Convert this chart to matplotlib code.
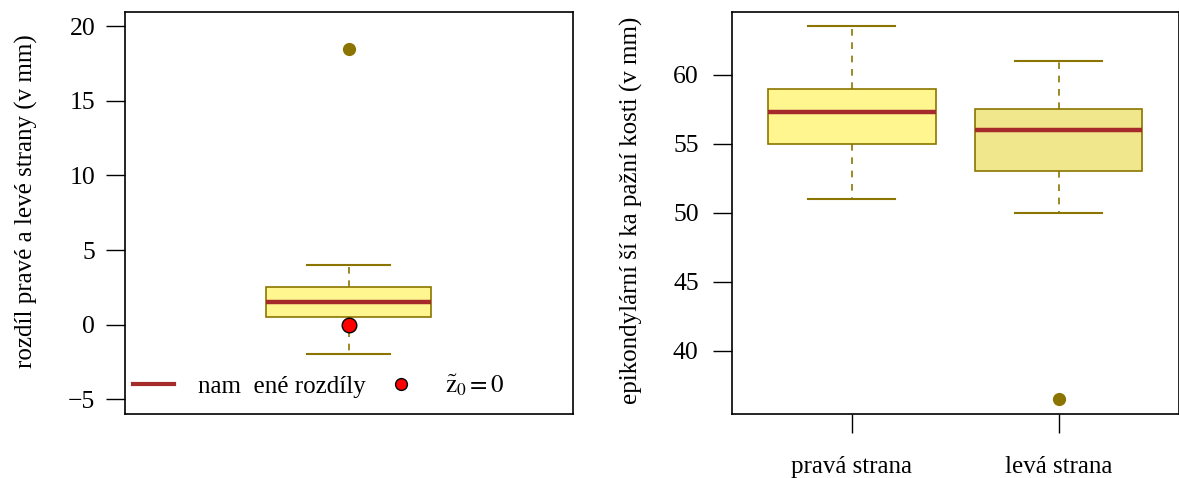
import matplotlib
matplotlib.use("Agg")
import matplotlib.pyplot as plt
from matplotlib.lines import Line2D

plt.rcParams['font.family'] = ['Liberation Serif', 'DejaVu Serif']
plt.rcParams['mathtext.fontset'] = 'stix'
FS = 18
TFS = 18.5

# ---- data ----
diff_stats = dict(whislo=-2.0, q1=0.5, med=1.5, q3=2.5, whishi=4.0, fliers=[18.5])
groups = ["pravá strana", "levá strana"]
g_whislo = [51.0, 50.0]
g_q1 = [55.0, 53.0]
g_med = [57.3, 56.0]
g_q3 = [59.0, 57.5]
g_whishi = [63.5, 61.0]
g_fliers = [[], [36.5]]
left_ticks = [-5, 0, 5, 10, 15, 20]
right_ticks = [40, 45, 50, 55, 60]
null_value = [0.0]

edge = '#8B7500'
medc = '#A52A2A'
fills_right = ['#FFF68F', '#F0E68C']

W, H = 1179, 478
fig = plt.figure(figsize=(W / 100, H / 100), dpi=100)
axL = fig.add_axes([124.5 / W, (H - 414) / H, (572.5 - 124.5) / W, (414 - 11.5) / H])
axR = fig.add_axes([732 / W, (H - 414) / H, (1178.5 - 732) / W, (414 - 11.5) / H])


def style_box(b, fills):
    for patch, fc in zip(b['boxes'], fills):
        patch.set_facecolor(fc)
        patch.set_edgecolor(edge)
        patch.set_linewidth(1.2)
    for w in b['whiskers']:
        w.set_color(edge)
        w.set_linestyle((0, (4, 4)))
        w.set_linewidth(1.2)
    for c in b['caps']:
        c.set_color(edge)
        c.set_linewidth(1.5)
    for m in b['medians']:
        m.set_color(medc)
        m.set_linewidth(3.2)
        m.set_solid_capstyle('butt')
    for f in b['fliers']:
        f.set_marker('o')
        f.set_markerfacecolor(edge)
        f.set_markeredgecolor(edge)
        f.set_markersize(8.5)


# ---- left panel ----
bL = axL.bxp([diff_stats], positions=[1], widths=0.40, capwidths=0.20,
             patch_artist=True, showfliers=True, manage_ticks=False)
style_box(bL, ['#FFF68F'])
axL.plot([1] * len(null_value), null_value, 'o', markersize=10.5,
         markerfacecolor='red', markeredgecolor='black', markeredgewidth=1.0, zorder=5)
axL.set_xlim(0.46, 1.54)
axL.set_ylim(-6, 21)
axL.set_yticks(left_ticks)
axL.set_yticklabels([str(t).replace('-', '\u2212') for t in left_ticks])
axL.set_xticks([])
axL.set_ylabel('rozdíl pravé a levé strany (v mm)', fontsize=FS)
axL.yaxis.set_label_coords(-0.193, 0.53)
axL.tick_params(axis='y', direction='out', length=14, width=1, labelsize=TFS, pad=7)

handles = [Line2D([0], [0], color=medc, lw=3),
           Line2D([0], [0], marker='o', ls='none', markersize=8.5,
                  markerfacecolor='red', markeredgecolor='black')]
labels = ['nam  ené rozdíly', r'$\tilde{\mathrm{z}}_0 = 0$']
axL.legend(handles, labels, loc='lower left', bbox_to_anchor=(-0.003, 0.015), ncol=2,
           frameon=False, fontsize=FS, handlelength=1.65, handletextpad=0.96,
           columnspacing=0.56, borderaxespad=0.0, borderpad=0.4)

# ---- right panel ----
stats = []
for i in range(len(groups)):
    stats.append(dict(whislo=g_whislo[i], q1=g_q1[i], med=g_med[i], q3=g_q3[i],
                      whishi=g_whishi[i], fliers=g_fliers[i]))
bR = axR.bxp(stats, positions=[1, 2], widths=0.81, capwidths=0.42,
             patch_artist=True, showfliers=True, manage_ticks=False)
style_box(bR, fills_right)
axR.set_xlim(0.42, 2.58)
axR.set_ylim(35.42, 64.58)
axR.set_yticks(right_ticks)
axR.set_xticks([1, 2])
axR.set_xticklabels(groups)
axR.set_ylabel('epikondylární ší ka pažní kosti (v mm)', fontsize=FS)
axR.yaxis.set_label_coords(-0.2, 0.505)
axR.tick_params(axis='y', direction='out', length=14, width=1, labelsize=TFS, pad=10)
axR.tick_params(axis='x', direction='out', length=14, width=1, labelsize=FS, pad=16)

for ax in (axL, axR):
    for s in ax.spines.values():
        s.set_linewidth(1.2)

fig.savefig('out.png', dpi=100)
